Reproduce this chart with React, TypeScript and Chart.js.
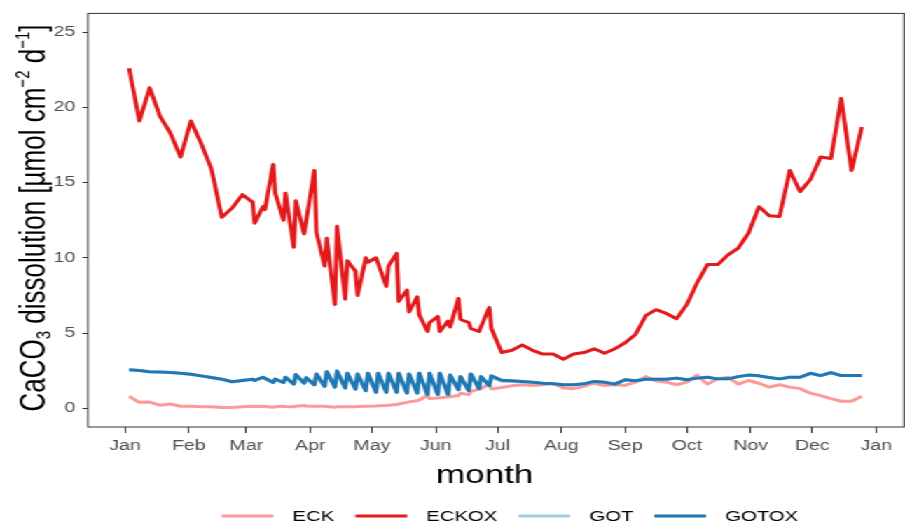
import { useEffect, useRef } from "react";
import { Chart, registerables } from "chart.js";

Chart.register(...registerables);

// The plot is laid out on a narrower canvas and widened horizontally on screen.
const CANVAS_W = 646;
const CANVAS_H = 528;
const STRETCH = 905 / CANVAS_W;

const FONT = "'Liberation Sans', Arial, Helvetica, sans-serif";

// x axis: day of year, ticks at the first of each month
const monthStarts = [0, 31, 59, 90, 120, 151, 181, 212, 243, 273, 304, 334, 365];
const monthLabels = ["Jan", "Feb", "Mar", "Apr", "May", "Jun", "Jul", "Aug", "Sep", "Oct", "Nov", "Dec", "Jan"];
const yTickValues = [0, 5, 10, 15, 20, 25];

// sampling days (day of year)
const sampleDays = [
  2, 7, 12, 17, 22, 27, 32, 37, 42, 47, 52, 57,
  62, 63, 67, 68, 72, 73, 77, 78, 82, 83, 87, 88, 92, 93, 97, 98,
  102, 103, 107, 108, 112, 113, 117, 118, 122, 123, 127, 128, 132, 133,
  137, 138, 142, 143, 147, 148, 152, 153, 157, 158, 162, 163, 167, 168,
  172, 173, 177, 178,
  183, 188, 193, 198, 203, 208, 213, 218, 223, 228, 233, 238, 243, 248,
  253, 258, 263, 268, 273, 278, 283, 288, 293, 298, 303, 308, 313, 318,
  323, 328, 333, 338, 343, 348, 353, 358,
];

// CaCO3 dissolution per treatment (null = no sample that day)
const eck = [
  0.79, 0.39, 0.41, 0.2, 0.28, 0.13, 0.13, 0.09, 0.09, 0.05, 0.05, 0.09,
  0.13, 0.12, 0.13, 0.12, 0.07, 0.1, 0.13, 0.12, 0.1, 0.13, 0.18, 0.15, 0.13, 0.13, 0.13, 0.12,
  0.07, 0.1, 0.1, 0.1, 0.1, 0.12, 0.13, 0.13, 0.15, 0.16, 0.18, 0.2, 0.24, 0.28,
  0.39, 0.42, 0.5, 0.55, 0.84, 0.64, 0.68, 0.7, 0.74, 0.76, 0.84, 1.0, 0.9, 1.12,
  1.25, 1.3, 1.62, 1.28,
  1.38, 1.49, 1.56, 1.51, 1.56, 1.66, 1.34, 1.3, 1.45, 1.66, 1.51, 1.56, 1.51, 1.73,
  2.1, 1.82, 1.73, 1.56, 1.73, 2.2, 1.6, 1.95, 2.06, 1.6, 1.84, 1.66, 1.4, 1.56,
  1.4, 1.3, 1.0, 0.84, 0.64, 0.46, 0.46, 0.79,
];

const eckox = [
  22.6, 19.1, 21.3, 19.4, 18.3, 16.7, 19.1, 17.6, 15.9, 12.7, 13.3, 14.2,
  13.7, 12.3, 13.4, 13.2, 16.2, 14.3, 12.5, 14.3, 10.7, 13.8, 11.6, null, 15.8, 11.7, 9.45, 11.3,
  6.9, 12.1, 7.25, 9.8, 9.1, 7.5, 10.0, 9.7, 10.0, null, 8.1, 9.45, 10.3, 7.1,
  7.85, 6.4, 7.4, 6.2, 5.1, 5.7, 6.1, 5.1, 5.8, 5.4, 7.3, 5.9, 5.7, 5.3,
  5.1, null, 6.7, 5.3,
  3.7, 3.85, 4.2, 3.85, 3.6, 3.6, 3.25, 3.6, 3.7, 3.95, 3.65, 3.95, 4.35, 4.9,
  6.15, 6.55, 6.3, 5.95, 6.9, 8.35, 9.55, 9.55, 10.2, 10.65, 11.65, 13.4, 12.8, 12.75,
  15.8, 14.4, 15.2, 16.7, 16.6, 20.6, 15.8, 18.7,
];

const got = [
  2.56, 2.5, 2.43, 2.41, 2.37, 2.32, 2.26, 2.15, 2.04, 1.93, 1.76, 1.84,
  1.93, 1.84, 2.06, null, 1.71, 1.93, 1.71, 2.06, 1.6, 2.24, 1.66, 2.02, 1.56, 2.28, 1.45, 2.43,
  1.4, 2.48, 1.34, 2.32, 1.27, 2.28, 1.16, 2.32, 1.05, 2.32, 1.05, 2.32, 1.05, 2.32,
  1.0, 2.28, 1.0, 2.32, 0.9, 2.32, 0.9, 2.32, 0.9, 2.2, 1.23, 2.1, 1.16, 2.28,
  1.3, 2.1, 1.5, 2.05,
  1.8, 1.78, 1.76, 1.72, 1.66, 1.62, 1.56, 1.56, 1.62, 1.78, 1.73, 1.6, 1.89, 1.82,
  1.93, 1.93, 1.93, 2.0, 1.89, 2.0, 2.06, 1.95, 1.95, 2.1, 2.2, 2.15, 2.04, 1.95,
  2.06, 2.06, 2.32, 2.17, 2.37, 2.17, 2.17, 2.17,
];

const gotox = [
  2.56, 2.5, 2.43, 2.41, 2.37, 2.32, 2.26, 2.15, 2.04, 1.93, 1.76, 1.84,
  1.93, 1.84, 2.06, null, 1.71, 1.93, 1.71, 2.06, 1.6, 2.24, 1.66, 2.02, 1.56, 2.28, 1.45, 2.43,
  1.4, 2.48, 1.34, 2.32, 1.27, 2.28, 1.16, 2.32, 1.05, 2.32, 1.05, 2.32, 1.05, 2.32,
  1.0, 2.28, 1.0, 2.32, 0.9, 2.32, 0.9, 2.32, 0.9, 2.2, 1.23, 2.1, 1.16, 2.28,
  1.3, 2.1, 1.5, 2.15,
  1.86, 1.82, 1.78, 1.72, 1.66, 1.62, 1.56, 1.56, 1.62, 1.78, 1.73, 1.6, 1.89, 1.82,
  1.93, 1.93, 1.93, 2.0, 1.89, 2.0, 2.06, 1.95, 1.95, 2.1, 2.2, 2.15, 2.04, 1.95,
  2.06, 2.06, 2.32, 2.17, 2.37, 2.17, 2.17, 2.17,
];

const seriesNames = ["ECK", "ECKOX", "GOT", "GOTOX"];
const seriesValues = [eck, eckox, got, gotox];
const seriesColors = ["#FB9A99", "#E31A1C", "#A6CEE3", "#1F78B4"];

// y axis title, with sub- and superscripts
const yTitleParts = [
  { text: "CaCO", size: 26, shift: 0 },
  { text: "3", size: 15, shift: 4 },
  { text: " dissolution [µmol cm", size: 26, shift: 0 },
  { text: "\u22122", size: 15, shift: -11 },
  { text: " d", size: 26, shift: 0 },
  { text: "\u22121", size: 15, shift: -11 },
  { text: "]", size: 26, shift: 0 },
];

const decorations = {
  id: "decorations",
  afterDatasetsDraw(chart: any) {
    const { ctx, chartArea: a } = chart;
    ctx.save();
    ctx.strokeStyle = "#333333";
    ctx.lineWidth = 1;
    ctx.strokeRect(a.left, a.top, a.right - a.left, a.bottom - a.top);
    ctx.restore();
  },
  afterDraw(chart: any) {
    const { ctx } = chart;

    // x axis title
    ctx.save();
    ctx.fillStyle = "#000000";
    ctx.font = `25px ${FONT}`;
    ctx.textAlign = "center";
    ctx.textBaseline = "alphabetic";
    ctx.fillText("month", 346, 483);
    ctx.restore();

    // y axis title
    ctx.save();
    ctx.translate(31.5, 218);
    ctx.rotate(-Math.PI / 2);
    ctx.fillStyle = "#000000";
    ctx.textBaseline = "alphabetic";
    ctx.textAlign = "left";
    let total = 0;
    for (const p of yTitleParts) {
      ctx.font = `${p.size}px ${FONT}`;
      total += ctx.measureText(p.text).width;
    }
    let x = -total / 2;
    for (const p of yTitleParts) {
      ctx.font = `${p.size}px ${FONT}`;
      ctx.fillText(p.text, x, p.shift);
      x += ctx.measureText(p.text).width;
    }
    ctx.restore();

    // legend along the bottom
    ctx.save();
    const keyLen = 37;
    const keyGap = 13.6;
    const itemGap = 15;
    const legendY = 516;
    ctx.font = `14.5px ${FONT}`;
    const widths = seriesNames.map((n) => ctx.measureText(n).width);
    const full = widths.reduce((s, w) => s + keyLen + keyGap + w, 0) + itemGap * (seriesNames.length - 1);
    let lx = 364 - full / 2;
    seriesNames.forEach((name, i) => {
      ctx.strokeStyle = seriesColors[i];
      ctx.lineWidth = 3;
      ctx.lineCap = "butt";
      ctx.beginPath();
      ctx.moveTo(lx, legendY);
      ctx.lineTo(lx + keyLen, legendY);
      ctx.stroke();
      ctx.fillStyle = "#000000";
      ctx.textAlign = "left";
      ctx.textBaseline = "middle";
      ctx.fillText(name, lx + keyLen + keyGap, legendY + 1);
      lx += keyLen + keyGap + widths[i] + itemGap;
    });
    ctx.restore();
  },
};

export default function App() {
  const canvasRef = useRef<HTMLCanvasElement | null>(null);

  useEffect(() => {
    const canvas = canvasRef.current;
    if (!canvas) return;
    const chart = new Chart(canvas, {
      type: "line",
      data: {
        datasets: seriesNames.map((name, i) => ({
          label: name,
          data: sampleDays.map((d, j) => ({ x: d, y: seriesValues[i][j] })),
          borderColor: seriesColors[i],
          backgroundColor: seriesColors[i],
          borderWidth: 3,
          borderJoinStyle: "round" as const,
          borderCapStyle: "butt" as const,
          pointRadius: 0,
          pointHoverRadius: 0,
          tension: 0,
          spanGaps: true,
          order: seriesNames.length - i,
        })),
      },
      options: {
        animation: false,
        responsive: false,
        devicePixelRatio: 1,
        events: [],
        layout: { padding: { top: 9, right: 0.71, left: 0, bottom: 0 } },
        plugins: {
          legend: { display: false },
          tooltip: { enabled: false },
        },
        scales: {
          x: {
            type: "linear",
            min: -17.98,
            max: 378.5,
            afterBuildTicks: (s: any) => {
              s.ticks = monthStarts.map((v) => ({ value: v }));
            },
            afterFit: (s: any) => {
              s.height = 101;
            },
            border: { display: false },
            grid: {
              drawOnChartArea: false,
              drawTicks: true,
              tickLength: 6,
              color: "#333333",
              lineWidth: 1,
            },
            ticks: {
              autoSkip: false,
              maxRotation: 0,
              minRotation: 0,
              padding: 5,
              color: "#4D4D4D",
              font: { family: FONT, size: 14 },
              callback: (_v: any, i: number) => monthLabels[i],
            },
          },
          y: {
            type: "linear",
            min: -1.25,
            max: 26.25,
            afterBuildTicks: (s: any) => {
              s.ticks = yTickValues.map((v) => ({ value: v }));
            },
            afterFit: (s: any) => {
              s.width = 62.81;
            },
            border: { display: false },
            grid: {
              drawOnChartArea: false,
              drawTicks: true,
              tickLength: 4,
              color: "#333333",
              lineWidth: 1,
            },
            ticks: {
              padding: 5,
              color: "#4D4D4D",
              font: { family: FONT, size: 14 },
              callback: (v: any) => String(v),
            },
          },
        },
      },
      plugins: [decorations],
    });
    return () => chart.destroy();
  }, []);

  return (
    <div
      style={{
        position: "absolute",
        left: 0,
        top: 0,
        width: CANVAS_W,
        height: CANVAS_H,
        transform: `scaleX(${STRETCH})`,
        transformOrigin: "0 0",
        background: "#ffffff",
      }}
    >
      <canvas ref={canvasRef} width={CANVAS_W} height={CANVAS_H} style={{ display: "block" }} />
    </div>
  );
}
